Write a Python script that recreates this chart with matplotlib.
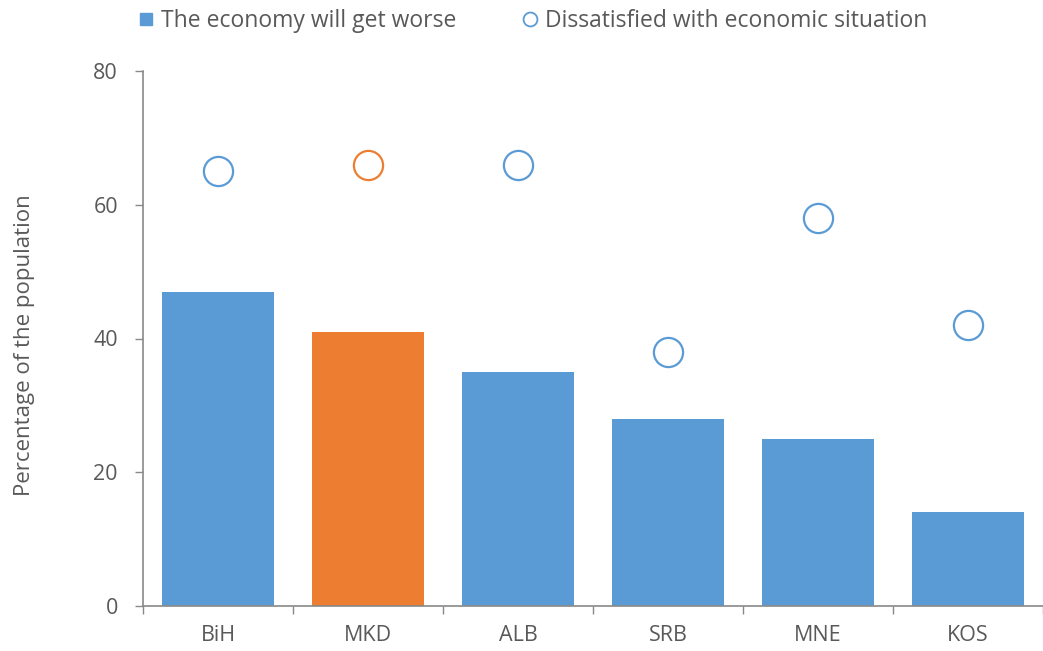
import matplotlib
matplotlib.use("Agg")
import matplotlib.pyplot as plt
import numpy as np
from matplotlib.lines import Line2D

plt.rcParams["font.family"] = ["Open Sans", "DejaVu Sans"]

countries = ["BiH", "MKD", "ALB", "SRB", "MNE", "KOS"]
worse = [47, 41, 35, 28, 25, 14]
dissatisfied = [65, 66, 66, 38, 58, 42]
highlight = "MKD"

BLUE = "#5B9BD5"
ORANGE = "#ED7D31"
AXIS = "#898989"
TEXT = "#595959"

fig = plt.figure(figsize=(10.43, 6.51), dpi=100)
ax = fig.add_axes([143 / 1043, 45 / 651, 900 / 1043, 535 / 651])

x = np.arange(len(countries))
colors = [ORANGE if c == highlight else BLUE for c in countries]
ax.bar(x, worse, width=0.75, color=colors, zorder=2)
for xi, val, col in zip(x, dissatisfied, colors):
    ax.plot(xi, val, marker="o", markersize=21, markerfacecolor="white",
            markeredgecolor=col, markeredgewidth=1.6, linestyle="none", zorder=3)

ax.set_xlim(-0.5, len(countries) - 0.5)
ax.set_ylim(0, 80)
ax.set_yticks([0, 20, 40, 60, 80])
ax.tick_params(axis="y", direction="out", length=6, width=1, color=AXIS,
               labelcolor=TEXT, labelsize=15.5, pad=12)

# category boundaries carry the tick marks, labels sit at the centres
ax.set_xticks(np.arange(-0.5, len(countries), 1.0))
ax.set_xticklabels([])
ax.tick_params(axis="x", which="major", direction="out", length=6, width=1, color=AXIS)
ax.set_xticks(x, minor=True)
ax.set_xticklabels(countries, minor=True)
ax.tick_params(axis="x", which="minor", length=0, labelcolor=TEXT, labelsize=15.5, pad=14)

for side in ("top", "right"):
    ax.spines[side].set_visible(False)
for side in ("left", "bottom"):
    ax.spines[side].set_color(AXIS)
    ax.spines[side].set_linewidth(1.2)

fig.text(25 / 1043, 1 - 345 / 651, "Percentage of the population", rotation=90,
         ha="center", va="center", color=TEXT, fontsize=16)

handles = [
    Line2D([], [], marker="s", markersize=9, color=BLUE, linestyle="none"),
    Line2D([], [], marker="o", markersize=10, markerfacecolor="white",
           markeredgecolor=BLUE, markeredgewidth=1.3, linestyle="none"),
]
fig.legend(handles, ["The economy will get worse", "Dissatisfied with economic situation"],
           loc="center left", bbox_to_anchor=(137 / 1043, 1 - 21 / 651), ncol=2,
           frameon=False, fontsize=16.5, labelcolor=TEXT, handletextpad=0.25,
           columnspacing=2.8, handlelength=0.8, borderaxespad=0, borderpad=0)

fig.savefig("out.png", dpi=100, facecolor="white")
